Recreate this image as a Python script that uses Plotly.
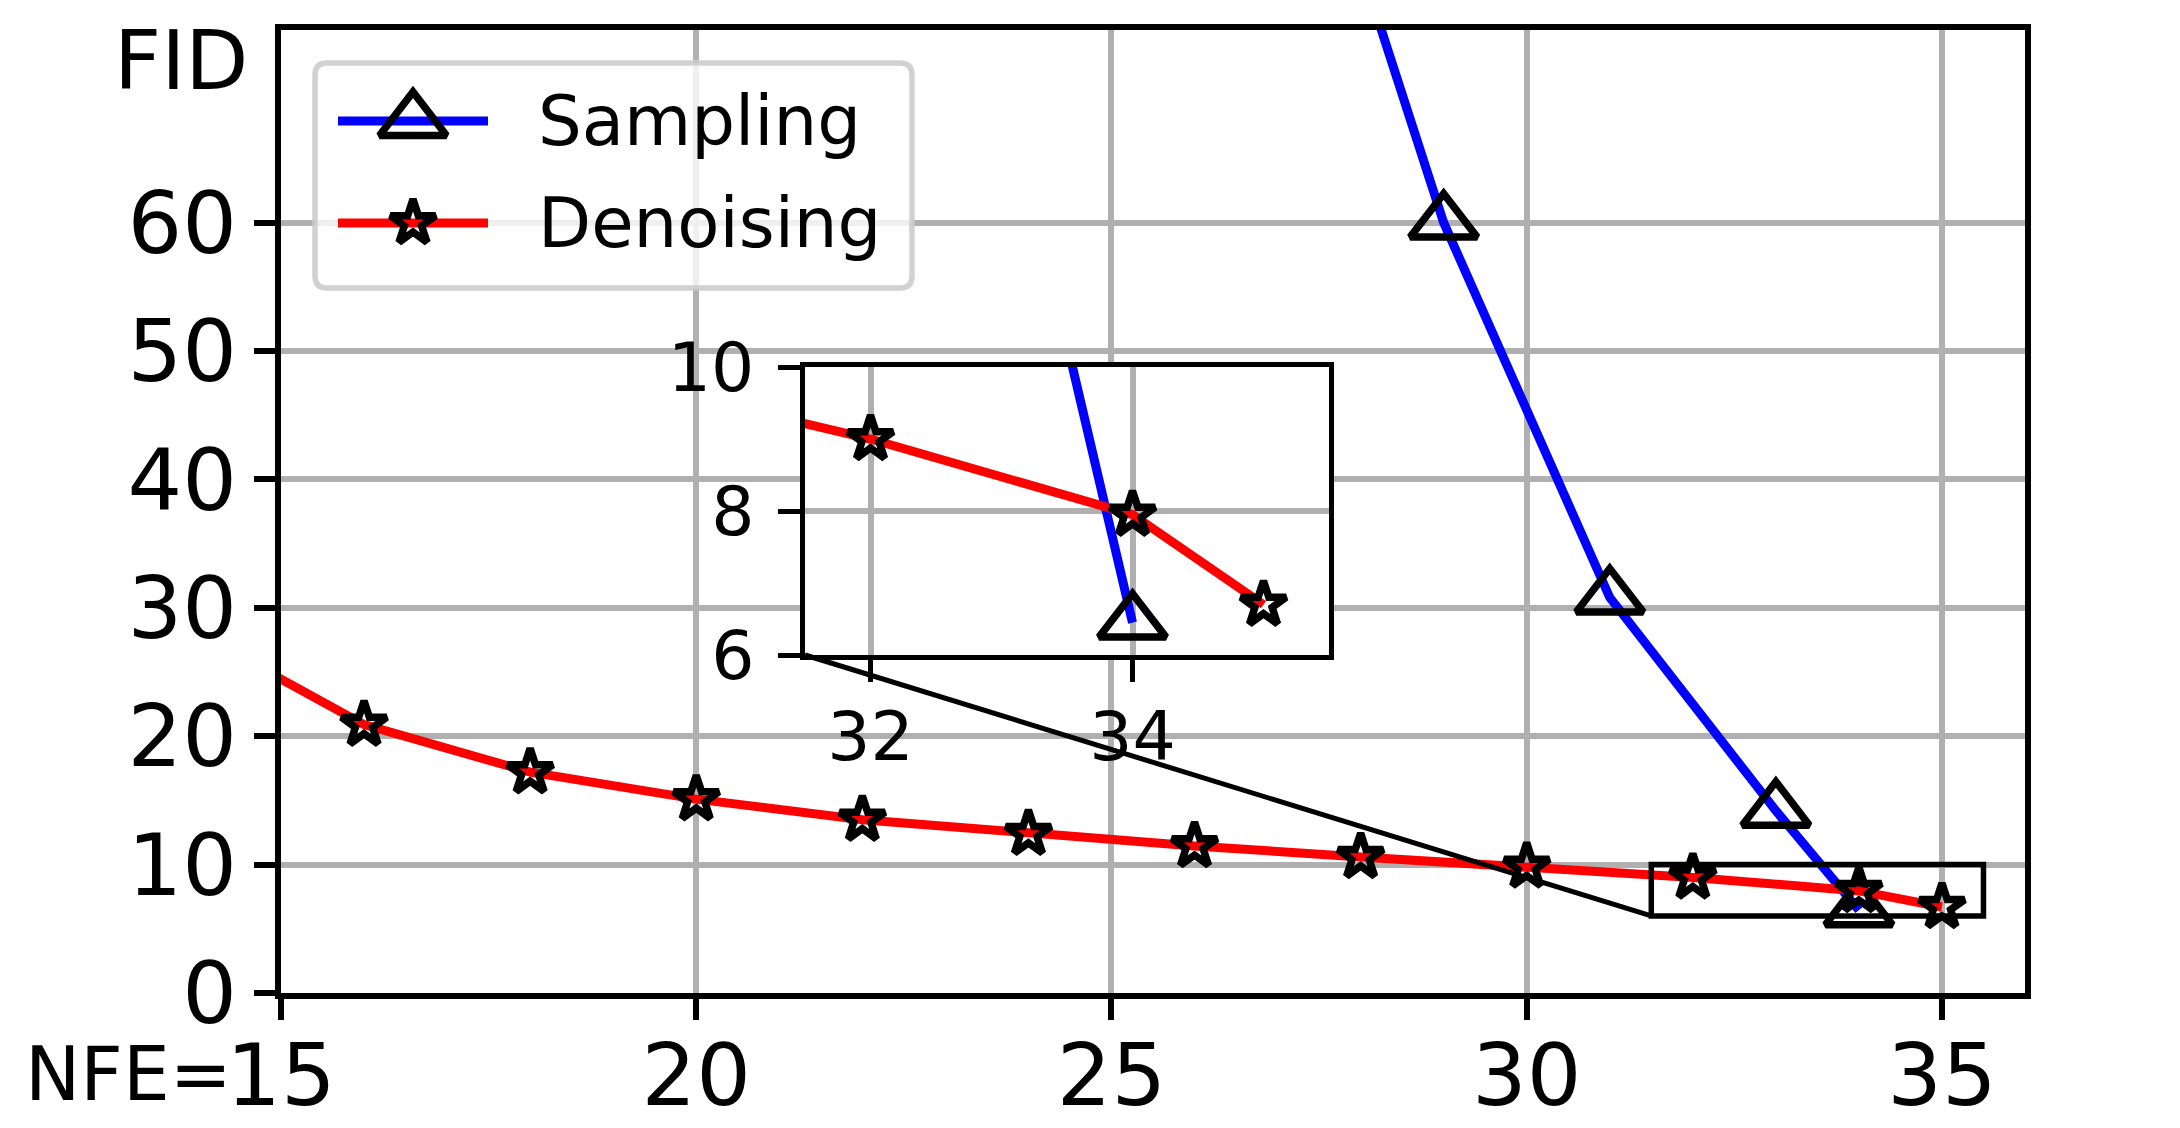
import plotly.graph_objects as go

W, H = 2180, 1128

# data
series = ["Sampling", "Denoising"]
nfe_sampling = [27, 29, 31, 33, 34]
fid_sampling = [100.0, 60.0, 30.8, 14.2, 6.45]
nfe_denoising = [14, 16, 18, 20, 22, 24, 26, 28, 30, 32, 34, 35]
fid_denoising = [28.0, 20.9, 17.2, 15.1, 13.5, 12.4, 11.45, 10.6, 9.85, 9.0, 7.95, 6.7]

main_xticks = [15, 20, 25, 30, 35]
main_yticks = [0, 10, 20, 30, 40, 50, 60]
inset_xticks = [32, 34]
inset_yticks = [6, 8, 10]
main_xrange = [15, 36]
main_yrange = [0, 75]
zoom_xrange = [31.5, 35.5]
zoom_yrange = [6, 10]

# pixel boxes of the two axes
MAIN = dict(l=281, r=2025, t=30, b=993)
INSET = dict(l=805, r=1329, t=367, b=655)

FONT = "DejaVu Sans"
colors = {"Sampling": "blue", "Denoising": "red"}
symbols = {"Sampling": "triangle-up-open", "Denoising": "star-open"}
msize = {"Sampling": 58, "Denoising": 34}
LW = 9
MLW = 7.5


def dom_x(box):
    return [box["l"] / W, box["r"] / W]


def dom_y(box):
    return [1 - box["b"] / H, 1 - box["t"] / H]


def px_to_x(px):
    return main_xrange[0] + (px - MAIN["l"]) / (MAIN["r"] - MAIN["l"]) * (main_xrange[1] - main_xrange[0])


def py_to_y(py):
    return main_yrange[0] + (MAIN["b"] - py) / (MAIN["b"] - MAIN["t"]) * (main_yrange[1] - main_yrange[0])


def x_to_paper(x):
    return (MAIN["l"] + (x - main_xrange[0]) / (main_xrange[1] - main_xrange[0]) * (MAIN["r"] - MAIN["l"])) / W


def y_to_paper(y):
    return 1 - (MAIN["b"] - (y - main_yrange[0]) / (main_yrange[1] - main_yrange[0]) * (MAIN["b"] - MAIN["t"])) / H


fig = go.Figure()

data = {"Sampling": (nfe_sampling, fid_sampling), "Denoising": (nfe_denoising, fid_denoising)}
for ax in ["", "2"]:
    for name in series:
        xs, ys = data[name]
        fig.add_trace(go.Scatter(
            x=xs, y=ys, mode="lines+markers", name=name, showlegend=False,
            xaxis="x" + ax, yaxis="y" + ax, cliponaxis=True,
            line=dict(color=colors[name], width=LW),
            marker=dict(symbol=symbols[name], size=msize[name], color="black",
                        line=dict(color="black", width=MLW)),
        ))

# hand made legend (plotly caps legend marker sizes)
leg = dict(l=315, r=912, t=63, b=288)
rad = 12
x0, x1 = px_to_x(leg["l"]), px_to_x(leg["r"])
y0, y1 = py_to_y(leg["b"]), py_to_y(leg["t"])
rx = px_to_x(leg["l"] + rad) - x0
ry = py_to_y(leg["t"]) - py_to_y(leg["t"] + rad)
path = (f"M{x0 + rx},{y1} L{x1 - rx},{y1} Q{x1},{y1} {x1},{y1 - ry} "
        f"L{x1},{y0 + ry} Q{x1},{y0} {x1 - rx},{y0} L{x0 + rx},{y0} "
        f"Q{x0},{y0} {x0},{y0 + ry} L{x0},{y1 - ry} Q{x0},{y1} {x0 + rx},{y1} Z")
fig.add_shape(type="path", path=path, xref="x", yref="y", layer="between",
              fillcolor="rgba(255,255,255,0.8)", line=dict(color="rgba(204,204,204,0.9)", width=5.5))

for i, name in enumerate(series):
    py = 121 + i * 102
    fig.add_trace(go.Scatter(
        x=[px_to_x(338), px_to_x(488)], y=[py_to_y(py)] * 2,
        mode="lines", showlegend=False, hoverinfo="skip",
        line=dict(color=colors[name], width=LW),
    ))
    fig.add_trace(go.Scatter(
        x=[px_to_x(413)], y=[py_to_y(py)],
        mode="markers", showlegend=False, hoverinfo="skip",
        marker=dict(symbol=symbols[name], size=msize[name], color="black",
                    line=dict(color="black", width=MLW)),
    ))
    fig.add_annotation(x=537 / W, y=1 - py / H, xref="paper", yref="paper",
                       text=name, showarrow=False, xanchor="left", yanchor="middle",
                       borderpad=0, font=dict(family=FONT, size=69, color="black"))

# zoom rectangle and connector
fig.add_shape(type="rect", xref="x", yref="y", x0=zoom_xrange[0], x1=zoom_xrange[1],
              y0=zoom_yrange[0], y1=zoom_yrange[1], line=dict(color="black", width=5.5), layer="above")
fig.add_shape(type="line", xref="paper", yref="paper",
              x0=INSET["l"] / W, y0=1 - INSET["b"] / H,
              x1=x_to_paper(zoom_xrange[0]), y1=y_to_paper(zoom_yrange[0]),
              line=dict(color="black", width=5), layer="above")

fig.add_annotation(x=250 / W, y=1 - 60 / H, xref="paper", yref="paper", text="FID",
                   showarrow=False, xanchor="right", yanchor="middle", borderpad=0,
                   font=dict(family=FONT, size=82, color="black"))
fig.add_annotation(x=233 / W, y=1 - 1074 / H, xref="paper", yref="paper", text="NFE=",
                   showarrow=False, xanchor="right", yanchor="middle", borderpad=0,
                   font=dict(family=FONT, size=74, color="black"))

axis_common = dict(showline=True, linecolor="black", mirror=True, ticks="outside",
                   tickcolor="black", showgrid=True, gridcolor="#b0b0b0", zeroline=False,
                   color="black", automargin=False)

fig.update_layout(
    template="none",
    width=W, height=H, margin=dict(l=0, r=0, t=0, b=0, pad=0), autosize=False,
    paper_bgcolor="white", plot_bgcolor="white", showlegend=False,
    font=dict(family=FONT, color="black"),
    xaxis=dict(domain=dom_x(MAIN), range=main_xrange, tickvals=main_xticks,
               linewidth=5.5, ticklen=21, tickwidth=5.5, gridwidth=5.5,
               tickfont=dict(size=86), ticklabelstandoff=-18, anchor="y", **axis_common),
    yaxis=dict(domain=dom_y(MAIN), range=main_yrange, tickvals=main_yticks,
               linewidth=5.5, ticklen=21, tickwidth=5.5, gridwidth=5.5,
               tickfont=dict(size=86), anchor="x", **axis_common),
    xaxis2=dict(domain=dom_x(INSET), range=zoom_xrange, tickvals=inset_xticks,
                linewidth=5, ticklen=22, tickwidth=5, gridwidth=5.5,
                tickfont=dict(size=68), ticklabelstandoff=-4, anchor="y2", **axis_common),
    yaxis2=dict(domain=dom_y(INSET), range=zoom_yrange, tickvals=inset_yticks,
                linewidth=5, ticklen=22, tickwidth=5, gridwidth=5.5,
                tickfont=dict(size=68), ticklabelstandoff=10, anchor="x2", **axis_common),
)

fig.write_html("out.html", config={"displayModeBar": False},
               post_script="document.body.style.margin='0';")
